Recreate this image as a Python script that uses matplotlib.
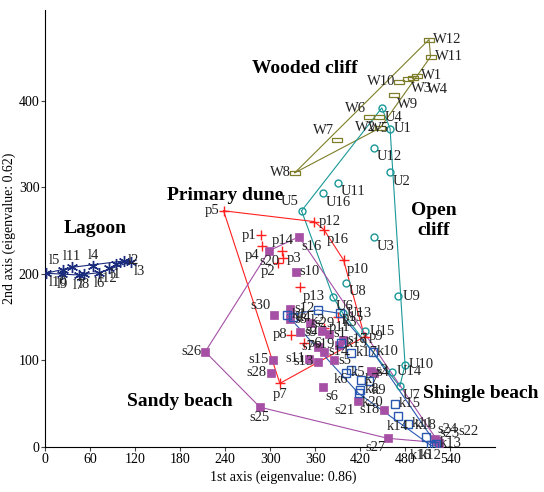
import numpy as np
import matplotlib.pyplot as plt
from matplotlib.path import Path

plt.rcParams['font.family'] = ['Liberation Serif', 'DejaVu Serif']

# Lagoon
lag_names = ["l1", "l2", "l3", "l4", "l5", "l6", "l7", "l8", "l9", "l10", "l11", "l12"]
lag_x = [94, 105, 114, 64, 23.5, 72, 44.7, 52, 22.5, 1.3, 35.8, 84.5]
lag_y = [211.5, 215, 214, 209, 204.6, 201.5, 198.8, 200, 200, 200.8, 207.7, 206.5]

# Wooded cliff
wood_names = ["W1", "W2", "W3", "W4", "W5", "W6", "W7", "W8", "W9", "W10", "W11", "W12"]
wood_x = [496, 447, 484.5, 491, 445, 432, 389, 333, 465.5, 472, 514, 512]
wood_y = [429, 369, 425, 426, 381, 381, 355, 317, 406.6, 422, 451, 471]

# Open cliff
open_names = ["U1", "U2", "U3", "U4", "U5", "U6", "U7", "U8", "U9", "U10",
              "U11", "U12", "U13", "U14", "U15", "U16"]
open_x = [460, 460, 438, 449, 342, 384, 473, 401.5, 471, 480, 390, 438, 397, 463, 427, 370]
open_y = [368, 318, 243, 392, 273, 173.5, 70, 190, 174, 95, 305.5, 346, 154.5, 87, 134, 293]

# Primary dune
dune_names = ["p1", "p2", "p3", "p4", "p5", "p6", "p7", "p8", "p9", "p10",
              "p11", "p12", "p13", "p14", "p15", "p16"]
dune_x = [288, 311, 317, 289, 238, 345, 313, 328, 426, 398, 372, 359, 339.5, 316.5, 390, 372]
dune_y = [245, 213, 218, 232, 273, 120, 73.5, 130, 127.5, 216, 138, 260.5, 184.6, 226, 150, 251]

# Sandy beach
sand_names = ["s1", "s2", "s3", "s4", "s5", "s6", "s7", "s8", "s9", "s10",
              "s11", "s12", "s13", "s14", "s15", "s16", "s17", "s18", "s19", "s20",
              "s21", "s22", "s23", "s24", "s25", "s26", "s27", "s28", "s29", "s30"]
sand_x = [379, 369.6, 434.6, 438, 385, 370.6, 364, 327, 340, 334,
          352, 327, 364, 372, 304, 338.6, 397, 452, 392, 299,
          417, 525, 522, 520, 286.5, 213.5, 457, 301, 353, 305]
sand_y = [131, 134.5, 88, 86, 100, 69, 116, 147.5, 132.5, 202.6,
          102, 160, 98.6, 110, 101, 243, 124, 43, 118, 227,
          53, 5, 7, 9, 46, 110, 10, 86, 143, 152.6]

# Shingle beach
shin_names = ["k1", "k2", "k3", "k4", "k5", "k6", "k7", "k8", "k9", "k10",
              "k11", "k12", "k13", "k14", "k15", "k16", "k17", "k18", "k19", "k20"]
shin_x = [322.7, 364, 392.6, 330.6, 401.5, 408, 421, 420, 432, 437,
          484, 514, 521, 470, 466, 518.6, 408, 508, 395, 418]
shin_y = [152.6, 158.4, 154.5, 150, 86, 89, 78, 66, 76, 110,
          27, 2, 4, 36, 49.7, 1, 109, 12, 120, 62]

# label placement per point
lag_pos = ["b", "r", "br", "a", "al", "b", "b", "b", "b", "br", "a", "b"]
wood_pos = ["r", "l", "br", (10, -3, "left", "top"), "b", "al", "al", "l", "br", "l", "r", "r"]
open_pos = ["r", "br", "br", "br", "al", "br", "br", "br", "r", "r",
            "br", "br", "r", "r", "r", "br"]
dune_pos = ["l", "bl", "r", "bl", "l", "r", "b", "l", "r", "br",
            "r", "r", "br", "a", "r", "br"]
sand_pos = ["r", "l", "r", (2, 0, "left", "center"), "r", "br", "l", "r", "r", "r",
            "l", "r", "l", "r", "l", "br", "r", "l", "l", "b",
            "bl", (14, 3, "left", "bottom"), (2, 1, "left", "bottom"), "ar", "b", "l", "bl", "l", "r", "al"]
shin_pos = ["r", "b", "br", "r", "r", "bl", "r", "r", "br", "r",
            "r", "b", "r", "b", "r", "bl", "r", "a", "r", "br"]

OFF = {
    "r": (3, 0, "left", "center"), "l": (-3, 0, "right", "center"),
    "a": (0, 3, "center", "bottom"), "b": (0, -3, "center", "top"),
    "ar": (2, 2, "left", "bottom"), "br": (2, -2, "left", "top"),
    "al": (-2, 2, "right", "bottom"), "bl": (-2, -2, "right", "top"),
}


def hull(xs, ys):
    pts = sorted(set(zip(xs, ys)))

    def cross(o, a, b):
        return (a[0] - o[0]) * (b[1] - o[1]) - (a[1] - o[1]) * (b[0] - o[0])

    lower, upper = [], []
    for p in pts:
        while len(lower) >= 2 and cross(lower[-2], lower[-1], p) <= 0:
            lower.pop()
        lower.append(p)
    for p in reversed(pts):
        while len(upper) >= 2 and cross(upper[-2], upper[-1], p) <= 0:
            upper.pop()
        upper.append(p)
    h = lower[:-1] + upper
    return [p[0] for p in h], [p[1] for p in h]


rect = Path([(-1, -0.5), (1, -0.5), (1, 0.5), (-1, 0.5), (-1, -0.5)],
            [Path.MOVETO, Path.LINETO, Path.LINETO, Path.LINETO, Path.CLOSEPOLY])

groups = [
    (lag_names, lag_x, lag_y, lag_pos, "#1c2c7c", dict(marker=(6, 2, 0), ms=8, mew=1.0)),
    (wood_names, wood_x, wood_y, wood_pos, "#7d7d2a", dict(marker=rect, ms=7, mfc="none", mew=0.9)),
    (open_names, open_x, open_y, open_pos, "#1a9898", dict(marker="o", ms=5, mfc="none", mew=1.0)),
    (dune_names, dune_x, dune_y, dune_pos, "#ff2020", dict(marker="+", ms=7, mew=1.0)),
    (sand_names, sand_x, sand_y, sand_pos, "#a54fa5", dict(marker="s", ms=5.5, mew=0.5)),
    (shin_names, shin_x, shin_y, shin_pos, "#2a58b0", dict(marker="s", ms=5.5, mfc="none", mew=1.0)),
]

fig = plt.figure(figsize=(5.44, 4.92), dpi=100)
ax = fig.add_axes([0.083, 0.0915, 0.827, 0.888])

for names, xs, ys, pos, col, mk in groups:
    hx, hy = hull(xs, ys)
    ax.plot(hx, hy, color=col, lw=0.8, zorder=2)
    ax.plot(xs, ys, ls="none", color=col, zorder=3, **mk)
    for n, x, y, p in zip(names, xs, ys, pos):
        dx, dy, ha, va = OFF[p] if isinstance(p, str) else p
        ax.annotate(n, (x, y), xytext=(dx, dy), textcoords="offset points",
                    ha=ha, va=va, fontsize=10.5, color="#222222", zorder=4)

group_labels = [("Lagoon", 67, 253, "center"), ("Wooded cliff", 346, 438, "center"),
                ("Primary dune", 240, 291, "center"), ("Open\ncliff", 518, 262, "center"),
                ("Sandy beach", 180, 52, "center"), ("Shingle beach", 658, 62, "right")]
for t, x, y, ha in group_labels:
    ax.text(x, y, t, fontsize=14, fontweight="bold", ha=ha, va="center",
            clip_on=False, linespacing=1.2)

ax.set_xlim(0, 600)
ax.set_ylim(0, 505)
ax.set_xticks(np.arange(0, 541, 60))
ax.set_yticks([0, 100, 200, 300, 400])
ax.spines["top"].set_visible(False)
ax.spines["right"].set_visible(False)
ax.tick_params(direction="out", length=3, width=0.8, labelsize=10, pad=1, color="#444444")
ax.set_xlabel("1st axis (eigenvalue: 0.86)", fontsize=10, labelpad=2)
ax.set_ylabel("2nd axis (eigenvalue: 0.62)", fontsize=10, labelpad=2)
ax.xaxis.set_label_coords(0.53, -0.055)

fig.savefig("out.png", dpi=100)
